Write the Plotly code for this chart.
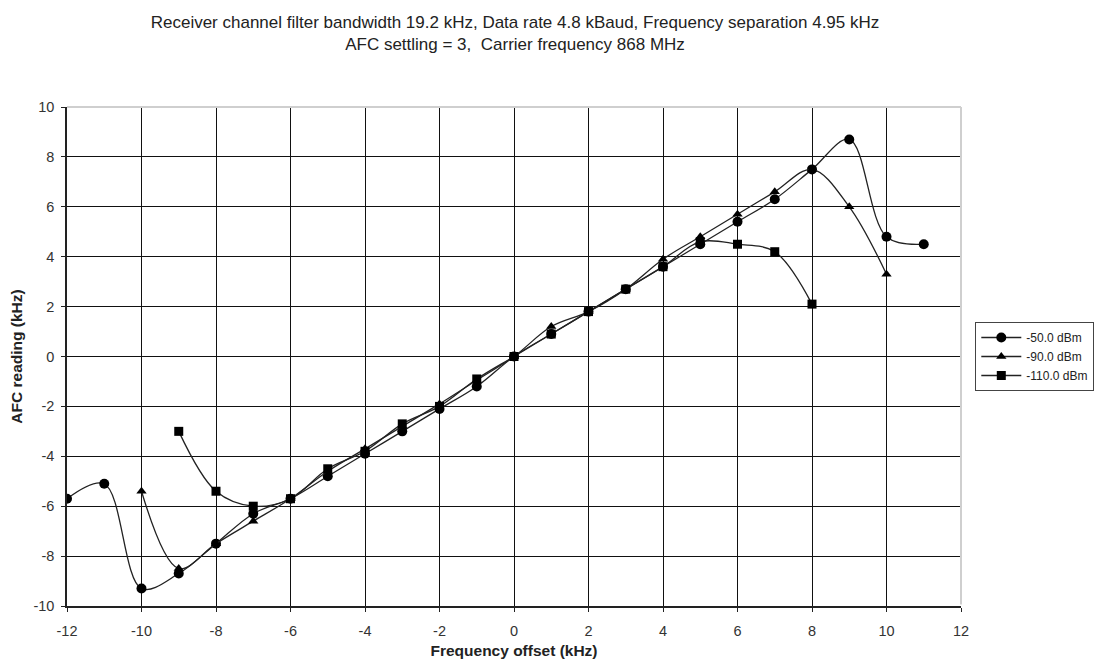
import plotly.graph_objects as go

x_50 = [-12, -11, -10, -9, -8, -7, -6, -5, -4, -3, -2, -1, 0, 1, 2, 3, 4, 5, 6, 7, 8, 9, 10, 11]
y_50 = [-5.7, -5.1, -9.3, -8.7, -7.5, -6.3, -5.7, -4.8, -3.9, -3.0, -2.1, -1.2, 0, 0.9, 1.8, 2.7, 3.6, 4.5, 5.4, 6.3, 7.5, 8.7, 4.8, 4.5]

x_90 = [-10, -9, -8, -7, -6, -5, -4, -3, -2, -1, 0, 1, 2, 3, 4, 5, 6, 7, 8, 9, 10]
y_90 = [-5.4, -8.5, -7.5, -6.6, -5.7, -4.6, -3.7, -2.8, -1.9, -0.95, 0, 1.2, 1.8, 2.7, 3.9, 4.8, 5.7, 6.6, 7.5, 6.0, 3.3]

x_110 = [-9, -8, -7, -6, -5, -4, -3, -2, -1, 0, 1, 2, 3, 4, 5, 6, 7, 8]
y_110 = [-3.0, -5.4, -6.0, -5.7, -4.5, -3.8, -2.7, -2.0, -0.9, 0, 0.9, 1.8, 2.7, 3.6, 4.6, 4.5, 4.2, 2.1]

series_names = ["-50.0 dBm", "-90.0 dBm", "-110.0 dBm"]
x_ticks = list(range(-12, 13, 2))
y_ticks = list(range(-10, 11, 2))
x_ticktext = [str(v) for v in x_ticks]
y_ticktext = [str(v) for v in y_ticks]

title_lines = [
    "Receiver channel filter bandwidth 19.2 kHz, Data rate 4.8 kBaud, Frequency separation 4.95 kHz",
    "AFC settling = 3,  Carrier frequency 868 MHz",
]

font = "Liberation Sans, Arial, sans-serif"

# the page body adds an 8 px offset; the figure is sized to fill the rest of the window
W, H = 1102, 651
L, R, T, B = 59, 149, 99, 53

fig = go.Figure()
specs = [(x_50, y_50, "circle", 10), (x_90, y_90, "triangle-up", 9), (x_110, y_110, "square", 9)]
for (xs, ys, sym, sz), name in zip(specs, series_names):
    fig.add_trace(go.Scatter(
        x=xs, y=ys, name=name, mode="lines+markers",
        line=dict(color="#222222", width=1.3, shape="spline", smoothing=1.0),
        marker=dict(symbol=sym, size=sz, color="black"),
    ))

axis_common = dict(
    showgrid=True, gridcolor="#111111", gridwidth=1,
    showline=True, linecolor="#222222", linewidth=1.5,
    ticks="outside", ticklen=4, tickcolor="#222222",
    tickfont=dict(family=font, size=14.5, color="#333333"),
    zeroline=False, mirror=False, automargin=False,
)
fig.update_xaxes(range=[-12, 12], tickvals=x_ticks, ticktext=x_ticktext, ticklabelstandoff=7,
                 title=dict(text="<b>Frequency offset (kHz)</b>", font=dict(family=font, size=15.5, color="#222222"), standoff=10),
                 **axis_common)
fig.update_yaxes(range=[-10, 10], tickvals=y_ticks, ticktext=y_ticktext, ticklabelstandoff=4,
                 title=dict(text="<b>AFC reading (kHz)</b>", font=dict(family=font, size=15.5, color="#222222"), standoff=10),
                 **axis_common)

# light grey top and right frame edges (as in the reference)
fig.add_shape(type="line", xref="paper", yref="paper", x0=0, y0=1, x1=1, y1=1,
              line=dict(color="#cfcfcf", width=2), layer="above")
fig.add_shape(type="line", xref="paper", yref="paper", x0=1, y0=0.003, x1=1, y1=1,
              line=dict(color="#cfcfcf", width=2), layer="above")

fig.update_layout(
    width=W, height=H,
    margin=dict(l=L, r=R, t=T, b=B),
    paper_bgcolor="white", plot_bgcolor="white",
    title=dict(text="<br>".join(title_lines), x=(515 - 8) / W, xanchor="center",
               y=1 - 20 / H, yanchor="middle",
               font=dict(family=font, size=17, color="#222222")),
    legend=dict(x=1.016, y=0.5, xanchor="left", yanchor="middle",
                bordercolor="#444444", borderwidth=1,
                font=dict(family=font, size=12, color="#222222"),
                tracegroupgap=0, itemwidth=40),
    showlegend=True,
)

fig.write_html("out.html")
